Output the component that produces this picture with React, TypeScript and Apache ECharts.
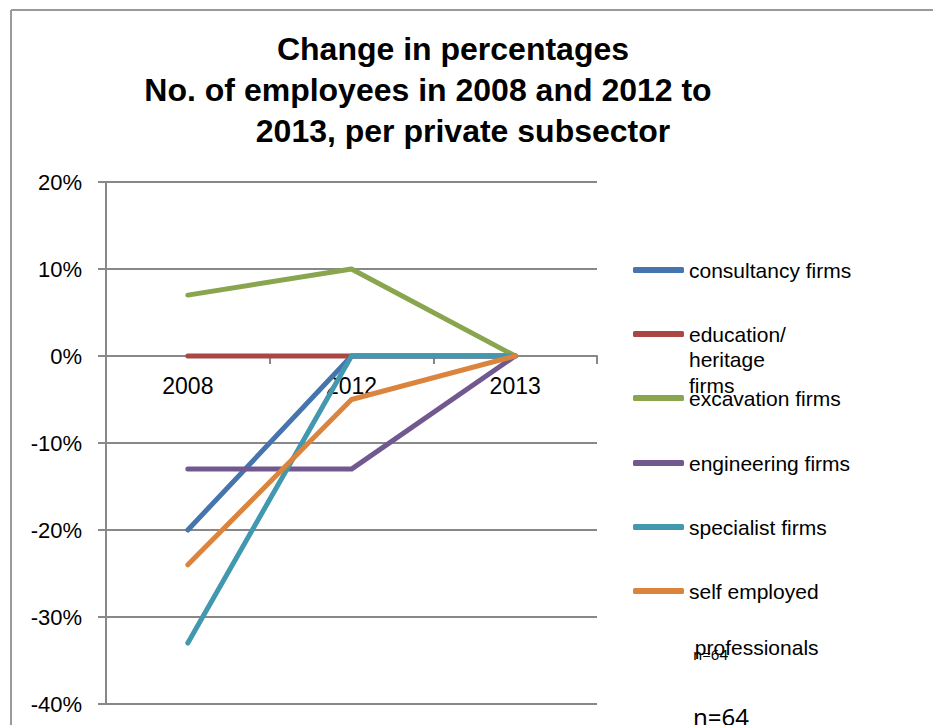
import React, { useEffect, useRef } from "react";
import * as echarts from "echarts";

const categories = ["2008", "2012", "2013"];
const seriesNames = [
  "consultancy firms",
  "education/ heritage firms",
  "excavation firms",
  "engineering firms",
  "specialist firms",
  "self employed professionals",
];
const consultancy = [-20, 0, 0];
const education = [0, 0, 0];
const excavation = [7, 10, 0];
const engineering = [-13, -13, 0];
const specialist = [-33, 0, 0];
const selfEmployed = [-24, -5, 0];
const seriesValues = [consultancy, education, excavation, engineering, specialist, selfEmployed];
const seriesColors = ["#4674ad", "#aa4643", "#89a54e", "#71588f", "#4198af", "#db843d"];
const yTicks = { min: -40, max: 20, interval: 10 };
const titleLines = [
  "Change in percentages",
  "No. of employees in 2008 and 2012 to",
  "2013, per private subsector",
];
const noteText = "n=64";

const FONT = "'Liberation Sans', Arial, sans-serif";
const GRID = "#888888";

export default function App() {
  const ref = useRef<HTMLDivElement>(null);
  useEffect(() => {
    if (!ref.current) return;
    const chart = echarts.init(ref.current, undefined, { renderer: "svg" });

    const legendLabel: Record<string, { text: string; lh: number; lines: number; cy: number }> = {
      "consultancy firms": { text: "consultancy firms", lh: 25, lines: 1, cy: 270 },
      "education/ heritage firms": { text: "\n\neducation/\nheritage\nfirms", lh: 25.5, lines: 5, cy: 334 },
      "excavation firms": { text: "excavation firms", lh: 25, lines: 1, cy: 398 },
      "engineering firms": { text: "engineering firms", lh: 25, lines: 1, cy: 463 },
      "specialist firms": { text: "specialist firms", lh: 25, lines: 1, cy: 527 },
      "self employed professionals": { text: "\n\nself employed\n\n professionals", lh: 28, lines: 5, cy: 591 },
    };

    const legends = seriesNames.map((name) => {
      const l = legendLabel[name];
      return {
        data: [name],
        left: 633,
        top: l.cy - (l.lines * l.lh) / 2,
        orient: "vertical",
        padding: 0,
        icon: "roundRect",
        itemWidth: 51,
        itemHeight: 6,
        selectedMode: false,
        formatter: () => l.text,
        textStyle: { fontSize: 21, color: "#000", fontFamily: FONT, lineHeight: l.lh },
      };
    });

    const gridTop = 182;
    const gridHeight = 522;
    const zeroOffset = -(gridHeight * (0 - yTicks.min)) / (yTicks.max - yTicks.min);

    const titleCenters = [453, 428, 463];
    const titleYs = [49, 90, 131];

    chart.setOption({
      animation: false,
      textStyle: { fontFamily: FONT },
      grid: {
        left: 106,
        top: gridTop,
        width: 491,
        height: gridHeight,
        containLabel: false,
        outerBoundsMode: "none",
      },
      legend: legends,
      xAxis: {
        type: "category",
        data: categories,
        boundaryGap: true,
        offset: zeroOffset,
        axisLine: { onZero: false, lineStyle: { color: GRID, width: 2 } },
        axisTick: { show: true, length: 8, lineStyle: { color: GRID, width: 2 } },
        axisLabel: { fontSize: 23, color: "#000", margin: 18, fontFamily: FONT },
        splitLine: { show: false },
      },
      yAxis: {
        type: "value",
        min: yTicks.min,
        max: yTicks.max,
        interval: yTicks.interval,
        axisLine: { show: true, lineStyle: { color: GRID, width: 2 } },
        axisTick: { show: true, length: 8, lineStyle: { color: GRID, width: 2 } },
        axisLabel: { fontSize: 22, color: "#000", margin: 24, formatter: "{value}%", fontFamily: FONT },
        splitLine: { show: true, lineStyle: { color: GRID, width: 2 } },
      },
      series: seriesNames.map((name, i) => ({
        name,
        type: "line",
        data: seriesValues[i],
        symbol: "none",
        color: seriesColors[i],
        lineStyle: { color: seriesColors[i], width: 5, cap: "round", join: "round" },
        emphasis: { disabled: true },
      })),
      graphic: [
        {
          type: "line",
          shape: { x1: 11, y1: 10, x2: 933, y2: 10 },
          style: { stroke: "#9a9a9a", lineWidth: 2 },
          silent: true,
        },
        {
          type: "line",
          shape: { x1: 11, y1: 10, x2: 11, y2: 725 },
          style: { stroke: "#9a9a9a", lineWidth: 2 },
          silent: true,
        },
        ...titleLines.map((t, i) => ({
          type: "text",
          x: titleCenters[i],
          y: titleYs[i],
          style: {
            text: t,
            fontSize: 32,
            fontWeight: "bold",
            fontFamily: FONT,
            fill: "#000",
            align: "center",
            verticalAlign: "middle",
          },
          silent: true,
        })),
        {
          type: "text",
          x: 693,
          y: 654,
          style: {
            text: noteText,
            fontSize: 15,
            fontFamily: "'Noto Sans', sans-serif",
            fill: "#000",
            align: "left",
            verticalAlign: "middle",
          },
          silent: true,
        },
        {
          type: "text",
          x: 693,
          y: 716,
          style: {
            text: noteText,
            fontSize: 24,
            fontFamily: "'Noto Sans', sans-serif",
            fill: "#000",
            align: "left",
            verticalAlign: "middle",
          },
          silent: true,
        },
      ],
    });
    return () => chart.dispose();
  }, []);

  return (
    <div
      ref={ref}
      style={{ position: "fixed", left: 0, top: 0, width: 933, height: 725, background: "#fff" }}
    />
  );
}
